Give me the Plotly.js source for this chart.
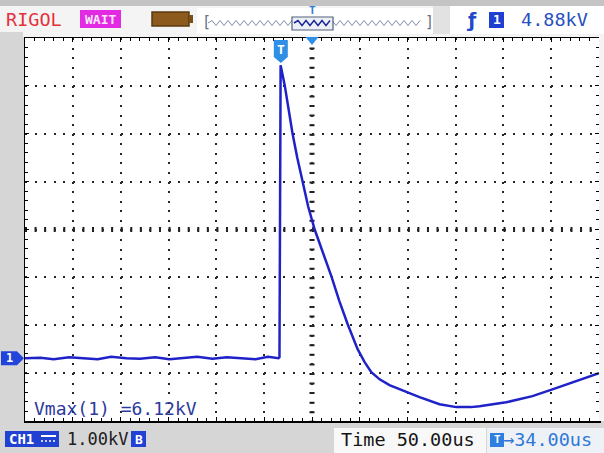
<!DOCTYPE html>
<html><head><meta charset="utf-8">
<script src="https://cdn.plot.ly/plotly-3.0.1.min.js"></script>
<style>html,body{margin:0;padding:0;background:#d6d6d6;overflow:hidden}#chart{width:604px;height:453px}</style>
</head><body><div id="chart"></div>
<script>
// ---- data (time in microseconds relative to trigger, voltage in kV) ----
const time_us = [-266,-250,-236,-220,-205,-190,-176,-160,-146,-130,-115,-100,-86,-70,-55,-40,-25,-12,-1,
  0,1.2,5.5,9.5,13.6,18.5,24.3,30,36.8,44.2,54.3,62.5,71.3,81.7,89,96,104.7,115,125.6,146.4,167.3,184.8,200,209.1,236.9,264.4,285.3,306.1,334];
const voltage_kV = [0,0.01,-0.02,0.02,0,-0.02,0.03,0,-0.01,0.02,-0.02,0.01,0.03,-0.01,0.02,0,-0.02,0.03,0,
  0.02,6.12,5.70,5.18,4.70,4.20,3.70,3.17,2.69,2.28,1.71,1.20,0.71,0.19,-0.08,-0.29,-0.44,-0.56,-0.65,-0.81,-0.96,-1.02,-1.02,-1.00,-0.92,-0.79,-0.65,-0.50,-0.31];
const timePerDiv_us = 50;
const voltsPerDiv_kV = 1;
const triggerTime_us = 0;
const triggerOffset_us = 34;      // horizontal position
const screenCenter_kV = 2.69;     // vertical centre of screen
const divsX = 12, divsY = 8;
const labels = {
  brand: 'RIGOL', status: 'WAIT', trig: '4.88kV', trigCh: '1',
  meas: 'Vmax(1) =6.12kV', ch: 'CH1', scale: '1.00kV', bw: 'B',
  time: 'Time 50.00us', offs: '→34.00us', chMark: '1', tMark: 'T'
};

// ---- pixel helpers for the instrument chrome ----
const L=25, R=599, T=38, B=421;
const X = p => (p-L)/(R-L);
const Y = p => (B-p)/(B-T);
const mono = 'DejaVu Sans Mono, Liberation Mono, monospace';
const shapes = [], ann = [];
function rect(x0,y0,x1,y1,fill,lc,lw){
  shapes.push({type:'rect',xref:'paper',yref:'paper',x0:X(x0),x1:X(x1),y0:Y(y1),y1:Y(y0),
    fillcolor:fill,line:{width:lw||0,color:lc||fill},layer:'above'});
}
function txt(x,y,text,size,color,extra){
  ann.push(Object.assign({xref:'paper',yref:'paper',x:X(x),y:Y(y),xanchor:'left',yanchor:'middle',
    text:text,showarrow:false,font:{family:mono,size:size,color:color}},extra||{}));
}
function zig(x0,x1,yc,amp,per){
  let d='M'+X(x0)+','+Y(yc), up=true;
  for(let x=x0+per/2;x<=x1;x+=per/2){ d+=' L'+X(x)+','+Y(yc+(up?-amp:amp)); up=!up; }
  return d;
}

// background bands
rect(0,0,604,6,'#c4c4c4');
rect(0,6,604,37,'#f4f4f4');
rect(0,32,23,37,'#d6d6d6');
rect(599,37,604,421,'#f4f4f4');
rect(433,6,450,34,'#e2e2e2');
// top bar
txt(4,19,labels.brand,18.5,'#e3323c');
rect(80,10,121,28,'#e22ae2');
txt(100.5,19.5,labels.status,12,'#f6d8f6',{xanchor:'center',font:{family:'DejaVu Sans Mono',size:13,color:'#fbe6fb',weight:'bold'}});
shapes.push({type:'rect',xref:'paper',yref:'paper',x0:X(152),x1:X(189),y0:Y(26),y1:Y(12),fillcolor:'#8b5a1c',line:{color:'#5b3a10',width:1.5},layer:'above'});
rect(189,15,193,23,'#7a4e18');
rect(197,8,433,34,'#ffffff');
txt(200,22,'[',15,'#6a7080');
txt(423,22,']',15,'#6a7080');
shapes.push({type:'path',xref:'paper',yref:'paper',path:zig(208,423,23,2.5,8),line:{color:'#7f8ca8',width:1},layer:'above'});
rect(292,17,333,30,'#eef0f8','#50607a',1.2);
shapes.push({type:'path',xref:'paper',yref:'paper',path:zig(294,331,23,2.5,8),line:{color:'#1e2a9c',width:1.5},layer:'above'});
txt(312,11,'T',10,'#2f7fd8',{xanchor:'center',font:{family:mono,size:11,color:'#2f7fd8',weight:'bold'}});
rect(450,6,604,34,'#ffffff');
txt(464,20,'ƒ',19,'#2248c8',{font:{family:'DejaVu Sans',size:19,color:'#2248c8',weight:'bold'}});
rect(489,12,504,28,'#1f3fd0');
txt(496.5,20,labels.trigCh,13,'#ffffff',{xanchor:'center',font:{family:mono,size:13,color:'#ffffff',weight:'bold'}});
txt(519,20,labels.trig,18.5,'#2750c0');

// bottom bar
rect(5,431,59,447,'#2141d2');
txt(7,439,labels.ch,14,'#ffffff',{font:{family:mono,size:14,color:'#ffffff',weight:'bold'}});
rect(41,435,56,437,'#ffffff');
shapes.push({type:'line',xref:'paper',yref:'paper',x0:X(41),x1:X(56),y0:Y(441),y1:Y(441),line:{color:'#ffffff',width:1.5,dash:'2px,2px'},layer:'above'});
txt(65,439,labels.scale,17,'#202020');
rect(131,431,146,447,'#2141d2');
txt(138.5,439,labels.bw,13,'#ffffff',{xanchor:'center',font:{family:mono,size:13,color:'#ffffff',weight:'bold'}});
rect(334,428,486,453,'#f8f8f8');
txt(339,440,labels.time,18.5,'#151515');
rect(487,428,604,453,'#eef2f7');
rect(490,433,504,447,'#2f7fe0');
txt(497,440,labels.tMark,11,'#ffffff',{xanchor:'center',font:{family:mono,size:11,color:'#ffffff',weight:'bold'}});
txt(501,440,labels.offs,18.5,'#2f78d8');

// measurement readout
txt(32,408,labels.meas,18,'#2c3a9e');

// markers inside/around the graticule
const pxPerUs = (R-L)/(divsX*timePerDiv_us);
const pxPerKv = (B-T)/(divsY*voltsPerDiv_kV);
const tw = 7/pxPerUs;
shapes.push({type:'path',xref:'x',yref:'paper',fillcolor:'#2f8fe6',line:{width:0},layer:'above',
  path:`M${triggerTime_us+1.4-tw},${Y(40)} L${triggerTime_us+1.4+tw},${Y(40)} L${triggerTime_us+1.4+tw},${Y(57)} L${triggerTime_us+1.4},${Y(63)} L${triggerTime_us+1.4-tw},${Y(57)} Z`});
ann.push({xref:'x',yref:'paper',x:triggerTime_us+1.4,y:Y(49),xanchor:'center',yanchor:'middle',showarrow:false,text:labels.tMark,
  font:{family:mono,size:13,color:'#ffffff',weight:'bold'}});
const cw = 6.5/pxPerUs;
shapes.push({type:'path',xref:'x',yref:'paper',fillcolor:'#2f8fe6',line:{width:0},layer:'above',
  path:`M${triggerOffset_us-cw},${Y(37)} L${triggerOffset_us+cw},${Y(37)} L${triggerOffset_us},${Y(45)} Z`});
const mh = 7/pxPerKv;
shapes.push({type:'path',xref:'paper',yref:'y',fillcolor:'#2244dd',line:{width:0},layer:'above',
  path:`M${X(1)},${mh} L${X(17)},${mh} L${X(24)},0 L${X(17)},${-mh} L${X(1)},${-mh} Z`});
ann.push({xref:'paper',yref:'y',x:X(9),y:0,xanchor:'center',yanchor:'middle',showarrow:false,text:labels.chMark,
  font:{family:mono,size:12,color:'#ffffff',weight:'bold'}});

// centre cross with fine ticks
const sub = ((B-T)/divsY/5).toFixed(2);
const dashTicks = '2px,' + (sub-2).toFixed(2) + 'px';
shapes.push({type:'line',xref:'x',yref:'paper',x0:triggerOffset_us,x1:triggerOffset_us,y0:1,y1:0,
  line:{color:'#1a1a1a',width:5,dash:dashTicks},layer:'below'});
shapes.push({type:'line',xref:'paper',yref:'y',x0:0,x1:1,y0:screenCenter_kV,y1:screenCenter_kV,
  line:{color:'#1a1a1a',width:5,dash:dashTicks},layer:'below'});

const xr = [triggerOffset_us - divsX/2*timePerDiv_us, triggerOffset_us + divsX/2*timePerDiv_us];
const yr = [screenCenter_kV - divsY/2*voltsPerDiv_kV, screenCenter_kV + divsY/2*voltsPerDiv_kV];
const axisCommon = {showgrid:true,gridcolor:'#262626',gridwidth:2,griddash:dashTicks,showticklabels:false,
  ticks:'inside',ticklen:4,tickcolor:'#000',tickwidth:1,showline:true,linecolor:'#000',linewidth:1.5,
  mirror:'allticks',zeroline:false,fixedrange:true};

Plotly.newPlot('chart',[{
  x: time_us, y: voltage_kV, type:'scatter', mode:'lines',
  line:{color:'#1e22c8',width:2.5}, hoverinfo:'skip'
}],{
  width:604,height:453,margin:{l:L,r:604-R,t:T,b:453-B},
  paper_bgcolor:'#d6d6d6',plot_bgcolor:'#ffffff',showlegend:false,
  xaxis:Object.assign({},axisCommon,{range:xr,tick0:triggerOffset_us,dtick:timePerDiv_us,
    minor:{tick0:triggerOffset_us,dtick:timePerDiv_us/5,ticks:'inside',ticklen:3,tickcolor:'#000',showgrid:false}}),
  yaxis:Object.assign({},axisCommon,{range:yr,tick0:screenCenter_kV,dtick:voltsPerDiv_kV,
    minor:{tick0:screenCenter_kV,dtick:voltsPerDiv_kV/5,ticks:'inside',ticklen:3,tickcolor:'#000',showgrid:false}}),
  shapes:shapes, annotations:ann
},{staticPlot:true,displayModeBar:false});
</script></body></html>
